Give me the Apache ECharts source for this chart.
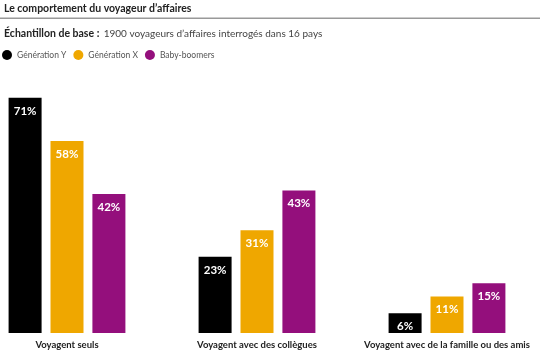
<!DOCTYPE html>
<html><head><meta charset="utf-8">
<script src="https://cdn.jsdelivr.net/npm/echarts@6/dist/echarts.min.js"></script>
<style>html,body{margin:0;padding:0;background:#fff}#c{width:540px;height:356px}</style>
</head><body><div id="c"></div>
<script>
const categories = ['Voyagent seuls', 'Voyagent avec des collègues', 'Voyagent avec de la famille ou des amis'];
const seriesNames = ['Génération Y', 'Génération X', 'Baby-boomers'];
const genY = [71, 23, 6];
const genX = [58, 31, 11];
const boomers = [42, 43, 15];
const colors = ['#000000', '#EFA700', '#940F7C'];
const FONT = 'Lato';

const chart = echarts.init(document.getElementById('c'));
const mk = (name, data, color) => ({
  name, type: 'bar', data, barWidth: 33, barGap: '27%',
  itemStyle: { color },
  label: { show: true, position: 'insideTop', distance: 7, formatter: '{c}%',
           color: '#fff', fontWeight: 'bold', fontSize: 11.5, fontFamily: FONT }
});
chart.setOption({
  animation: false,
  textStyle: { fontFamily: FONT },
  title: [
    { text: '{t|Le comportement du voyageur d\u2019affaires}', left: 4, top: 3, padding: 0,
      textStyle: { rich: { t: { fontSize: 10.5, fontWeight: 'bold', color: '#222', fontFamily: FONT } } } },
    { text: '{b|Échantillon de base :} {n|1900 voyageurs d\u2019affaires interrogés dans 16 pays}', left: 4, top: 25, padding: 0,
      textStyle: { rich: { b: { fontSize: 10.5, fontWeight: 'bold', color: '#222', fontFamily: FONT },
                            n: { fontSize: 10, fontWeight: 'normal', color: '#444', fontFamily: FONT } } } }
  ],
  graphic: [{ type: 'rect', shape: { x: 0, y: 17.5, width: 540, height: 1.5 }, style: { fill: '#999' } }],
  legend: { left: 2, top: 50, padding: 0, icon: 'circle', itemWidth: 10, itemHeight: 10, itemGap: 7,
            textStyle: { fontSize: 8.5, color: '#555', fontFamily: FONT } },
  grid: { left: -28, width: 570, top: 68, bottom: 23, containLabel: false, outerBoundsMode: 'none' },
  xAxis: { type: 'category', data: categories,
           axisLine: { show: false }, axisTick: { show: false },
           axisLabel: { interval: 0, fontSize: 9.5, fontWeight: 'bold', color: '#222', margin: 7, fontFamily: FONT } },
  yAxis: { type: 'value', min: 0, max: 80, show: false, splitLine: { show: false } },
  series: [mk(seriesNames[0], genY, colors[0]), mk(seriesNames[1], genX, colors[1]), mk(seriesNames[2], boomers, colors[2])]
});
</script></body></html>
